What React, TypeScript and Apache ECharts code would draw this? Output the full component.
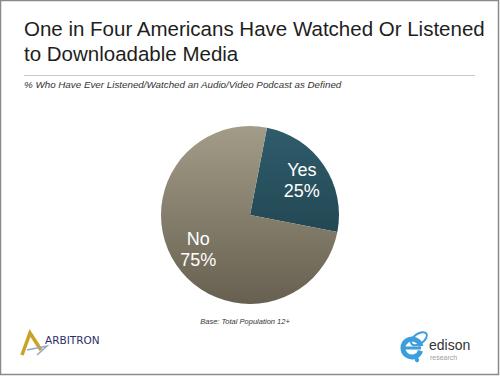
import React, { useEffect, useRef } from "react";
import * as echarts from "echarts";

const titleLines = ["One in Four Americans Have Watched Or Listened", "to Downloadable Media"];
const subtitle = "% Who Have Ever Listened/Watched an Audio/Video Podcast as Defined";
const baseNote = "Base: Total Population 12+";
const categories = ["Yes", "No"];
const values = [25, 75];
const percentLabels = ["25%", "75%"];

const FONT = "'Liberation Sans', Arial, Helvetica, sans-serif";

// place text by baseline using middle alignment
const mid = (baseline: number, fs: number) => baseline - 0.33 * fs;

export default function App() {
  const ref = useRef<HTMLDivElement>(null);
  useEffect(() => {
    if (!ref.current) return;
    const chart = echarts.init(ref.current, null, { renderer: "svg" });
    const grad = (top: string, bottom: string) =>
      new echarts.graphic.LinearGradient(0, 126, 0, 304, [
        { offset: 0, color: top },
        { offset: 1, color: bottom },
      ], true);
    const fills = [grad("#2f5c6c", "#1a3a42"), grad("#a29c88", "#676050")];
    const pieData = categories.map((c, i) => ({ name: c, value: values[i], itemStyle: { color: fills[i] } }));
    const labelData = categories.map((c, i) => ({
      name: c,
      value: values[i],
      label: { formatter: c + "\n" + percentLabels[i] },
    }));
    const txt = (x: number, baseline: number, text: string, fs: number, fill: string, extra: any = {}) => ({
      type: "text",
      x,
      y: mid(baseline, fs),
      style: {
        text,
        fontSize: fs,
        fontFamily: FONT,
        fill,
        verticalAlign: "middle",
        align: "left",
        ...extra,
      },
    });
    chart.setOption({
      animation: false,
      backgroundColor: "#ffffff",
      series: [
        {
          type: "pie",
          center: [250, 215],
          radius: [0, 89],
          startAngle: 79,
          clockwise: true,
          silent: true,
          label: { show: false },
          labelLine: { show: false },
          itemStyle: { borderWidth: 0 },
          data: pieData,
        },
        {
          type: "pie",
          center: [250, 215],
          radius: [0, 119],
          startAngle: 79,
          clockwise: true,
          silent: true,
          itemStyle: { color: "rgba(0,0,0,0)", borderWidth: 0 },
          label: {
            show: true,
            position: "inside",
            color: "#ffffff",
            fontSize: 18,
            lineHeight: 21,
            fontFamily: FONT,
            align: "center",
          },
          labelLine: { show: false },
          data: labelData,
        },
      ],
      graphic: [
        {
          type: "rect",
          shape: { x: 0.5, y: 0.5, width: 498, height: 374 },
          style: { fill: "none", stroke: "#8a8a8a", lineWidth: 1.5 },
          z: 100,
        },
        txt(24, 35, titleLines[0], 20.5, "#1e1e1e"),
        txt(24, 60, titleLines[1], 20.5, "#1e1e1e"),
        {
          type: "line",
          shape: { x1: 24, y1: 75.5, x2: 475, y2: 75.5 },
          style: { stroke: "#c8c8c8", lineWidth: 1 },
        },
        txt(24, 88, subtitle, 9.8, "#333333", { fontStyle: "italic" }),
        txt(245, 324, baseNote, 7.5, "#333333", { fontStyle: "italic", align: "center" }),
        // Arbitron logo
        {
          type: "polyline",
          shape: { points: [[22, 355], [30, 333], [41, 350]] },
          style: { stroke: "#c9a227", lineWidth: 3.5, fill: "none", lineJoin: "miter" },
        },
        {
          type: "polyline",
          shape: { points: [[27, 350], [47, 346], [37, 355]] },
          style: { stroke: "#9aa3c8", lineWidth: 1.5, fill: "none" },
        },
        txt(45, 343, "ARBITRON", 10.5, "#2a2f6a", { fontFamily: `'DejaVu Sans', ${FONT}` }),
        // Edison logo
        {
          type: "arc",
          shape: { cx: 412, cy: 348, r: 9, startAngle: 0.3, endAngle: Math.PI * 2 - 0.2 },
          style: { stroke: "#3c9fdc", lineWidth: 5, fill: "none" },
        },
        {
          type: "line",
          shape: { x1: 403, y1: 348, x2: 421, y2: 348 },
          style: { stroke: "#3c9fdc", lineWidth: 3 },
        },
        {
          type: "ellipse",
          shape: { cx: 419, cy: 339, rx: 9, ry: 5 },
          rotation: 0.6,
          originX: 419,
          originY: 339,
          style: { stroke: "#3c9fdc", lineWidth: 2, fill: "none" },
        },
        {
          type: "circle",
          shape: { cx: 417, cy: 360, r: 2.2 },
          style: { fill: "#3c9fdc" },
        },
        txt(429, 350, "edison", 14, "#333333"),
        txt(430, 359.5, "research", 7, "#a0a0a0"),
      ],
    });
    return () => chart.dispose();
  }, []);
  return (
    <div
      ref={ref}
      style={{ position: "fixed", left: 0, top: 0, width: 500, height: 376 }}
    />
  );
}
